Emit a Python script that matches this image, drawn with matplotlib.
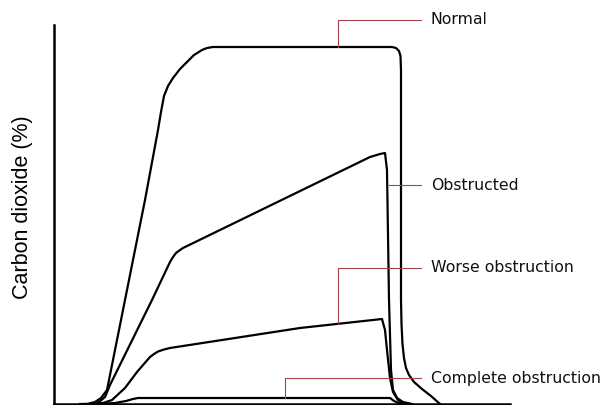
import numpy as np
import matplotlib.pyplot as plt

# waveform traces (time, CO2), arbitrary units
normal_t = [26, 33, 41, 47, 53, 71, 91, 104, 107, 110, 114, 119, 126, 133, 140, 148, 153, 159,
            338, 342, 345, 346.5, 347, 347, 347.5, 348.5, 350, 352, 355, 360, 368, 377, 386]
normal_co2 = [0, 0, 2, 6, 14, 104, 204, 274, 292, 308, 318, 326, 335, 342, 349, 354, 356, 357,
              357, 356, 353, 348, 334, 104, 80, 60, 46, 36, 29, 22, 15, 8, 0]

obstructed_t = [30, 38, 45, 51, 56, 98, 116, 119, 122, 126, 129, 279, 316, 326, 331, 333, 335, 337, 339, 343, 349, 358]
obstructed_co2 = [0, 0, 2, 7, 19, 104, 142, 147, 151, 154, 156, 229, 247, 250, 251, 234, 104, 34, 14, 6, 2, 0]

worse_t = [36, 49, 58, 71, 83, 96, 100, 104, 110, 116, 246, 328, 331, 333, 336, 339, 344, 352]
worse_co2 = [0, 1, 4, 16, 32, 47, 50, 52.5, 54.5, 56, 76, 85, 74, 54, 26, 12, 4, 0]

complete_t = [41, 61, 72, 79, 84, 336, 340, 345, 352]
complete_co2 = [0, 1, 3, 5, 6, 6, 3, 1, 0]

labels = ['Normal', 'Obstructed', 'Worse obstruction', 'Complete obstruction']

# leader lines: anchor on the curve, elbow x, label height
anchor_x = [284, 335, 284, 231]
anchor_y = [357, 219, 80, 6]
label_y = [384, 219, 136, 26]
line_end = 367
text_x = 377

fig = plt.figure(figsize=(6.13, 4.05), dpi=100)
ax = fig.add_axes([54 / 613, 1 / 405, 456 / 613, 379 / 405])

for t, c in [(normal_t, normal_co2), (obstructed_t, obstructed_co2),
             (worse_t, worse_co2), (complete_t, complete_co2)]:
    ax.plot(t, c, color='black', lw=1.6, solid_joinstyle='round', clip_on=False)

red = '#a8424a'
for lab, ax_, ay, ly in zip(labels, anchor_x, anchor_y, label_y):
    ax.plot([ax_, ax_, line_end], [ay, ly, ly], color=red, lw=0.8, clip_on=False)
    ax.text(text_x, ly, lab, fontsize=11.3, color='#111111', va='center', ha='left',
            family='DejaVu Sans')

ax.set_xlim(0, 456)
ax.set_ylim(0, 379)
ax.set_xticks([])
ax.set_yticks([])
ax.spines['top'].set_visible(False)
ax.spines['right'].set_visible(False)
ax.spines['left'].set_linewidth(1.8)
ax.spines['bottom'].set_linewidth(1.8)

ax.set_ylabel('Carbon dioxide (%)', fontsize=15.5, family='Liberation Sans')
ax.yaxis.set_label_coords(-0.045, 0.52)

fig.savefig('out.png', dpi=100)
